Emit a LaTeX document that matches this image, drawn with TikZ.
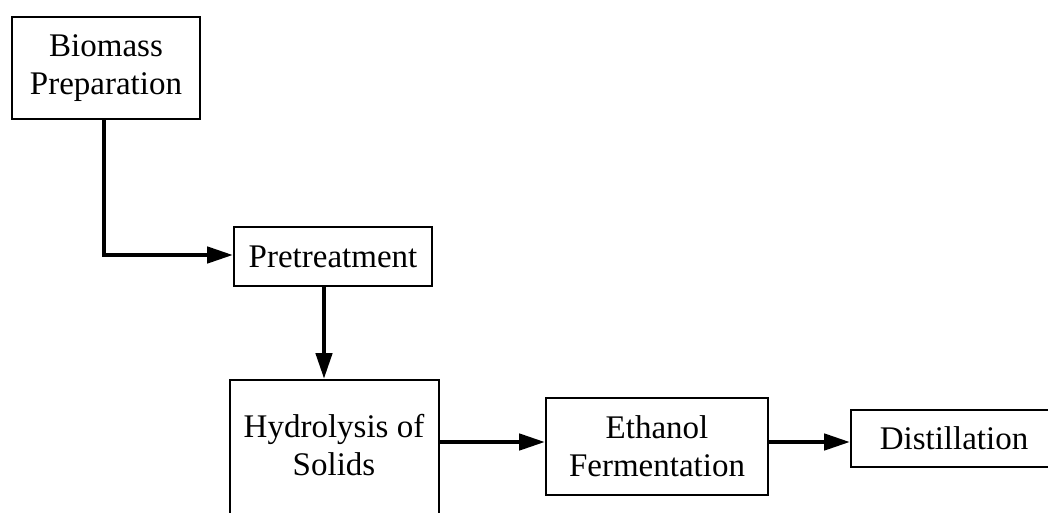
\documentclass[tikz,border=0pt]{standalone}
\usepackage{fontspec}
\setmainfont{Liberation Serif}
\usetikzlibrary{arrows.meta}
\begin{document}
\begin{tikzpicture}[x=1pt,y=-1pt,
  box/.style={draw=black,line width=1.8pt,fill=white,inner sep=0pt,align=center,
    font=\fontsize{33}{38}\selectfont},
  txt/.style={inner sep=0pt,align=center,font=\fontsize{33}{38}\selectfont},
  arr/.style={line width=4.5pt,-{Triangle[length=26pt,width=16pt]}}]
\path[use as bounding box] (0,0) rectangle (1048,512);
\clip (0,0) rectangle (1048,512);
\node[box,minimum width=188pt,minimum height=102pt] (bio) at (106,68) {Biomass\\Preparation};
\node[box,minimum width=198pt,minimum height=59pt] (pre) at (333,256.5) {Pretreatment};
\node[box,minimum width=209pt,minimum height=200pt,anchor=north west] (hyd) at (229,379) {};
\node[txt] (hydt) at (334,445) {Hydrolysis of\\Solids};
\node[box,minimum width=222pt,minimum height=97pt] (eth) at (657,446.5) {Ethanol\\Fermentation};
\node[box,minimum width=206pt,minimum height=57pt] (dis) at (954,438.5) {Distillation};
\draw[arr] ([xshift=-2pt]bio.south) |- ([yshift=1.5pt]pre.west);
\draw[arr] ([xshift=-9pt]pre.south) -- ([xshift=-9pt]pre.south |- hyd.north);
\draw[arr] ([yshift=4.5pt]eth.west -| hyd.east) -- ([yshift=4.5pt]eth.west);
\draw[arr] ([yshift=-3.5pt]dis.west -| eth.east) -- ([yshift=-3.5pt]dis.west);
\end{tikzpicture}
\end{document}
